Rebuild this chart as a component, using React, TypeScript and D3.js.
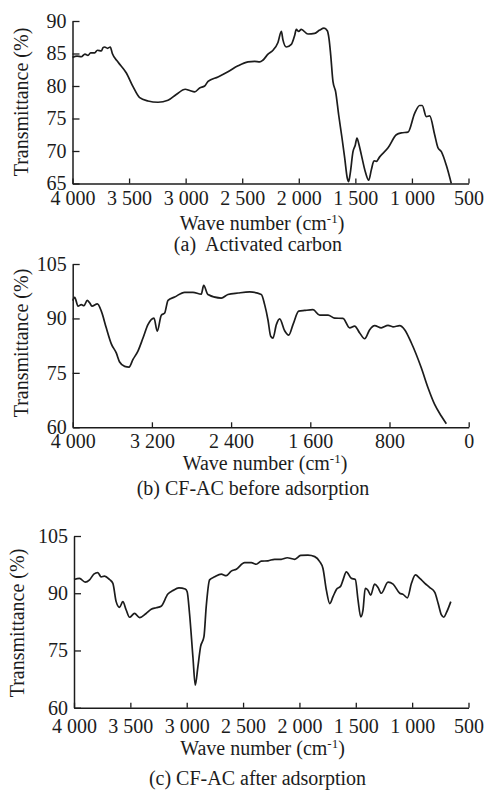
import { useEffect, useRef } from "react"
import * as d3 from "d3"

// (a) Activated carbon
const aWave = [4000, 3960, 3922, 3890, 3863, 3840, 3804, 3780, 3745, 3730, 3716, 3690, 3666, 3648, 3598, 3524, 3465, 3406, 3333, 3244, 3156, 3083, 3003, 2964, 2920, 2876, 2832, 2802, 2714, 2626, 2537, 2449, 2390, 2345, 2316, 2272, 2228, 2184, 2154, 2140, 2110, 2066, 2036, 2022, 2001, 1978, 1919, 1860, 1815, 1777, 1748, 1733, 1718, 1698, 1674, 1647, 1618, 1594, 1571, 1559, 1545, 1521, 1501, 1486, 1471, 1447, 1412, 1382, 1359, 1335, 1315, 1285, 1211, 1138, 1094, 1035, 976, 932, 909, 873, 843, 799, 770, 740, 696, 652]
const aT = [84.4, 84.6, 84.5, 84.9, 84.7, 85.1, 85.1, 85.5, 85.4, 85.9, 86.0, 85.8, 86.0, 85.0, 83.7, 82.0, 79.9, 78.2, 77.7, 77.5, 77.8, 78.7, 79.5, 79.3, 79.1, 79.7, 80.0, 80.7, 81.4, 82.2, 83.1, 83.7, 83.8, 83.7, 84.0, 84.9, 85.5, 86.7, 88.4, 87.1, 86.0, 86.4, 87.8, 88.7, 88.4, 88.7, 88.0, 88.1, 88.6, 88.9, 88.5, 87.3, 84.8, 80.7, 79.1, 75.5, 72.0, 68.9, 65.8, 65.3, 66.6, 69.9, 70.9, 72.0, 71.2, 69.4, 66.8, 65.5, 67.1, 68.5, 68.4, 69.1, 70.5, 72.5, 72.8, 72.9, 75.8, 77.0, 77.0, 75.3, 75.4, 72.5, 70.5, 69.9, 67.8, 65.0]

// (b) CF-AC before adsorption
const bWave = [4000, 3980, 3946, 3913, 3886, 3853, 3829, 3805, 3751, 3711, 3661, 3610, 3560, 3526, 3475, 3431, 3391, 3341, 3290, 3240, 3179, 3146, 3105, 3071, 3037, 2970, 2869, 2785, 2701, 2677, 2634, 2499, 2432, 2330, 2212, 2095, 2061, 2027, 2000, 1977, 1943, 1909, 1859, 1818, 1775, 1717, 1657, 1573, 1505, 1421, 1354, 1270, 1202, 1152, 1101, 1051, 1000, 950, 883, 815, 765, 697, 647, 580, 479, 411, 344, 277, 226]
const bT = [94.9, 95.8, 93.4, 93.8, 93.5, 95.0, 94.3, 93.4, 94.0, 92.0, 87.4, 83.0, 80.5, 78.0, 76.8, 76.6, 78.7, 81.0, 84.6, 88.3, 90.1, 86.5, 90.9, 91.5, 95.0, 95.9, 97.2, 97.2, 96.7, 99.1, 96.6, 95.6, 96.6, 97.0, 97.3, 96.6, 93.8, 89.5, 85.1, 84.6, 88.3, 89.9, 86.6, 85.4, 88.3, 92.0, 92.2, 92.4, 90.9, 90.9, 90.1, 90.0, 87.4, 87.9, 86.0, 84.4, 86.9, 88.0, 87.4, 88.1, 87.7, 88.0, 86.9, 83.3, 76.4, 70.9, 66.3, 63.1, 61.0]

// (c) CF-AC after adsorption
const cWave = [4000, 3951, 3901, 3862, 3824, 3789, 3759, 3729, 3685, 3655, 3626, 3596, 3567, 3537, 3507, 3463, 3418, 3360, 3315, 3271, 3227, 3167, 3123, 3069, 3013, 2996, 2975, 2945, 2924, 2901, 2877, 2847, 2827, 2797, 2752, 2694, 2649, 2605, 2560, 2486, 2427, 2383, 2338, 2279, 2220, 2161, 2108, 2042, 1989, 1924, 1864, 1820, 1791, 1761, 1731, 1702, 1672, 1633, 1613, 1584, 1540, 1504, 1480, 1456, 1436, 1416, 1392, 1368, 1333, 1303, 1274, 1214, 1169, 1110, 1080, 1042, 1006, 971, 932, 887, 843, 799, 769, 740, 719, 696, 657]
const cT = [93.6, 93.9, 92.9, 93.5, 95.0, 95.4, 94.3, 94.5, 93.6, 92.6, 87.8, 86.3, 87.8, 85.6, 83.7, 84.7, 83.6, 84.7, 85.8, 86.2, 86.6, 89.8, 90.7, 91.4, 91.1, 90.4, 84.7, 73.3, 65.9, 70.7, 76.0, 78.6, 86.5, 93.5, 94.3, 95.0, 94.6, 95.8, 96.3, 98.0, 98.0, 97.6, 98.4, 98.5, 98.9, 98.9, 99.3, 98.9, 99.9, 100.0, 99.6, 98.3, 96.5, 90.8, 87.3, 89.1, 91.0, 91.9, 93.5, 95.6, 93.9, 93.6, 88.2, 83.8, 85.6, 91.3, 90.8, 89.5, 92.4, 91.5, 90.0, 92.9, 92.4, 90.0, 89.7, 88.8, 92.6, 94.8, 93.9, 92.6, 91.5, 90.2, 87.3, 84.3, 83.7, 84.9, 87.8]

const xTicksA = [4000, 3500, 3000, 2500, 2000, 1500, 1000, 500]
const xTicksB = [4000, 3200, 2400, 1600, 800, 0]
const yTicksA = [65, 70, 75, 80, 85, 90]
const yTicksB = [60, 75, 90, 105]

const panels = [
  { wave: aWave, t: aT, xDomain: [4000, 500], yDomain: [65, 90], xr: [72.5, 468.5], yr: [183.5, 21], xTicks: xTicksA, yTicks: yTicksA, xPad: 7, yLab: [21, 102], title: 262, titleY: 230, caption: "(a)  Activated carbon", capX: 258, capY: 250.5 },
  { wave: bWave, t: bT, xDomain: [4000, 0], yDomain: [60, 105], xr: [72.7, 468.7], yr: [427.3, 264], xTicks: xTicksB, yTicks: yTicksB, xPad: 7, yLab: [21, 343], title: 265, titleY: 470, caption: "(b) CF-AC before adsorption", capX: 253, capY: 495 },
  { wave: cWave, t: cT, xDomain: [4000, 500], yDomain: [60, 105], xr: [74, 468.5], yr: [707.7, 536], xTicks: xTicksA, yTicks: yTicksB, xPad: 11, yLab: [17, 623], title: 262.5, titleY: 755, caption: "(c) CF-AC after adsorption", capX: 257.5, capY: 785 },
]

const fmt = d3.formatLocale({ decimal: ".", thousands: " ", grouping: [3], currency: ["", ""] }).format(",")
const FONT = "'Liberation Serif', 'Times New Roman', serif"
const INK = "#1c1c1c"

export default function App() {
  const svgRef = useRef<SVGSVGElement>(null)

  useEffect(() => {
    const svg = d3.select(svgRef.current)
    svg.selectAll("*").remove()

    panels.forEach((p) => {
      const x = d3.scaleLinear().domain(p.xDomain).range(p.xr)
      const y = d3.scaleLinear().domain(p.yDomain).range(p.yr)
      const g = svg.append("g")

      // x axis, ticks pointing inward
      const gx = g.append("g")
        .attr("transform", "translate(0," + p.yr[0] + ")")
        .call(d3.axisBottom(x).tickValues(p.xTicks).tickFormat((d) => fmt(+d)).tickSize(-5).tickSizeOuter(0).tickPadding(p.xPad))
      // y axis
      const gy = g.append("g")
        .attr("transform", "translate(" + p.xr[0] + ",0)")
        .call(d3.axisLeft(y).tickValues(p.yTicks).tickSize(-7).tickSizeOuter(0).tickPadding(6))

      ;[gx, gy].forEach((a) => {
        a.select(".domain").attr("stroke", INK).attr("stroke-width", 1.5)
        a.selectAll(".tick line").attr("stroke", INK).attr("stroke-width", 1.3)
        a.selectAll(".tick text").attr("fill", INK).style("font-family", FONT).style("font-size", "20px")
      })

      // spectrum
      const line = d3.line<number>()
        .x((d, i) => x(p.wave[i]))
        .y((d) => y(d))
        .curve(d3.curveMonotoneX)
      g.append("path")
        .attr("d", line(p.t))
        .attr("fill", "none")
        .attr("stroke", INK)
        .attr("stroke-width", 1.7)
        .attr("stroke-linejoin", "round")

      // axis titles
      g.append("text")
        .attr("transform", "translate(" + p.yLab[0] + "," + p.yLab[1] + ")rotate(-90)")
        .attr("text-anchor", "middle")
        .attr("dy", "0.35em")
        .style("font-family", FONT).style("font-size", "20px").attr("fill", INK)
        .text("Transmittance (%)")

      const t = g.append("text")
        .attr("x", p.title).attr("y", p.titleY)
        .attr("text-anchor", "middle")
        .style("font-family", FONT).style("font-size", "20px").attr("fill", INK)
      t.append("tspan").text("Wave number (cm")
      t.append("tspan").attr("dy", -7).style("font-size", "13px").text("-1")
      t.append("tspan").attr("dy", 7).text(")")

      g.append("text")
        .attr("x", p.capX).attr("y", p.capY)
        .attr("text-anchor", "middle")
        .style("font-family", FONT).style("font-size", "20px").style("white-space", "pre").attr("fill", INK)
        .text(p.caption)
    })
  }, [])

  return (
    <svg ref={svgRef} width={488} height={790} style={{ position: "absolute", left: 0, top: 0, background: "#fff" }}></svg>
  )
}
